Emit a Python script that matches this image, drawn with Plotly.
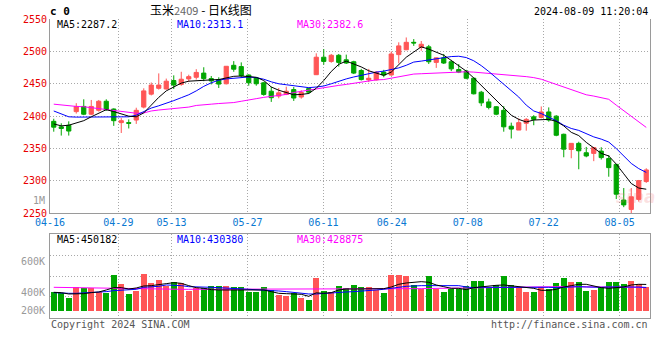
import plotly.graph_objects as go

# ---------------- data ----------------
dates = ["04-16","04-17","04-18","04-19","04-22","04-23","04-24","04-25","04-26","04-29","04-30",
         "05-06","05-07","05-08","05-09","05-10","05-13","05-14","05-15","05-16","05-17",
         "05-20","05-21","05-22","05-23","05-24","05-27","05-28","05-29","05-30","05-31",
         "06-03","06-04","06-05","06-06","06-07","06-11","06-12","06-13","06-14",
         "06-17","06-18","06-19","06-20","06-21","06-24","06-25","06-26","06-27","06-28",
         "07-01","07-02","07-03","07-04","07-05","07-08","07-09","07-10","07-11","07-12",
         "07-15","07-16","07-17","07-18","07-19","07-22","07-23","07-24","07-25","07-26",
         "07-29","07-30","07-31","08-01","08-02","08-05","08-06","08-07","08-08","08-09"]

opens = [2392, 2383.5, 2386, 2407, 2415, 2403, 2409, 2423, 2411, 2390,
         2390, 2394, 2414, 2434, 2443, 2442, 2455, 2449, 2457.5, 2460,
         2466.5, 2458, 2456.5, 2450, 2478.5, 2476.5, 2463.5, 2459, 2451.5, 2438.5,
         2431, 2433.5, 2441, 2429.5, 2442.5, 2464, 2491, 2484.5, 2494, 2487,
         2484, 2470.5, 2456, 2456, 2468, 2463.5, 2495, 2502.5, 2514, 2506,
         2507, 2483, 2490, 2484, 2472, 2469.5, 2458.5, 2437, 2422, 2414.5,
         2409, 2384.5, 2378.5, 2389, 2399, 2398, 2406.5, 2400, 2372, 2348.5,
         2358, 2343.5, 2342.5, 2346, 2334.5, 2325.5, 2270.5, 2256, 2271.5, 2299]
highs = [2396, 2389, 2392, 2420, 2426, 2425, 2425, 2426, 2412, 2397,
         2395, 2413, 2443, 2452, 2466, 2458, 2463, 2468.5, 2464, 2472.5,
         2475.5, 2462, 2460, 2477, 2485, 2483, 2464.5, 2460, 2453, 2445.5,
         2443.5, 2445.5, 2445, 2440, 2444, 2497, 2503.5, 2496, 2496, 2495,
         2485.5, 2473, 2473, 2469.5, 2471.5, 2500, 2514, 2521.5, 2519, 2516,
         2510, 2490.5, 2496, 2487, 2480.5, 2471.5, 2460, 2439, 2427, 2415.5,
         2415.5, 2390, 2396.5, 2397, 2401.5, 2415, 2413.5, 2401.5, 2373, 2358,
         2360.5, 2352.5, 2352.5, 2352, 2340, 2325.5, 2289, 2289, 2301.5, 2319.5]
lows = [2376, 2370, 2370, 2404, 2401.5, 2401.5, 2407, 2408, 2385, 2374,
        2381, 2388, 2412, 2432, 2441, 2441, 2442, 2447, 2453, 2456.5,
        2454, 2449, 2443.5, 2449, 2468.5, 2459, 2447, 2447, 2431.5, 2422,
        2427.5, 2432.5, 2423.5, 2427, 2434.5, 2463.5, 2479.5, 2482.5, 2476.5, 2480.5,
        2465, 2455, 2452.5, 2455, 2460, 2462.5, 2481.5, 2502, 2508.5, 2501,
        2480.5, 2474.5, 2480.5, 2469.5, 2466.5, 2457, 2433.5, 2415.5, 2410.5, 2401.5,
        2376, 2365.5, 2378.5, 2377.5, 2386, 2396.5, 2391.5, 2369, 2336.5, 2335,
        2318, 2336.5, 2330.5, 2333, 2306.5, 2272, 2259.5, 2248, 2268, 2297]
closes = [2383, 2381, 2377, 2415, 2403, 2415, 2423, 2410, 2393, 2393,
          2389, 2409, 2439, 2448, 2448, 2454, 2448, 2457, 2461, 2467.5,
          2458, 2454.5, 2449.5, 2477, 2472.5, 2462.5, 2451.5, 2450, 2433.5, 2428.5,
          2436, 2438.5, 2428, 2436.5, 2437, 2491, 2484.5, 2494, 2483, 2482,
          2466.5, 2456.5, 2458.5, 2468, 2463.5, 2496, 2508.5, 2514, 2513, 2511,
          2484, 2490, 2482, 2473, 2468, 2458.5, 2434.5, 2420.5, 2413.5, 2403,
          2383.5, 2380, 2390, 2395, 2395, 2406.5, 2394, 2370.5, 2349, 2358,
          2346.5, 2338.5, 2351.5, 2336, 2320.5, 2279.5, 2263, 2275.5, 2300.5, 2317]

ma5 = [2388, 2385, 2386, 2389, 2393, 2399, 2405, 2410, 2407, 2404,
       2400, 2399, 2405, 2417, 2429, 2439, 2445, 2451, 2454, 2455,
       2456, 2456, 2456.5, 2459.5, 2461.5, 2462, 2461, 2460, 2455, 2445,
       2440, 2436, 2433, 2433.5, 2435, 2443, 2455, 2469, 2480, 2485,
       2481, 2476, 2470, 2467, 2463, 2468, 2480, 2491, 2499, 2507,
       2503.5, 2499, 2494, 2486, 2478, 2469.5, 2459, 2447.5, 2436, 2425,
       2412, 2401.5, 2395, 2391, 2394, 2395, 2395, 2392, 2385, 2375,
       2370, 2359.5, 2350.5, 2342.5, 2338.5, 2326, 2311, 2296, 2289, 2287.2]
ma10 = [2408, 2403, 2399, 2398.5, 2398.5, 2398, 2398, 2398, 2399, 2399,
        2399, 2401.5, 2406.5, 2412.5, 2416, 2419.5, 2424, 2428.5, 2433, 2439,
        2446, 2451.5, 2455.5, 2457.5, 2458.5, 2460, 2460.5, 2459.5, 2457, 2453,
        2450, 2448.5, 2447, 2446, 2444, 2445, 2446.5, 2450, 2454, 2457.5,
        2460.5, 2463, 2466, 2468, 2469.5, 2471.5, 2474.5, 2478.5, 2483.5, 2485,
        2487, 2489, 2491, 2492, 2492.5, 2490.5, 2485.5, 2478, 2469, 2459,
        2448.5, 2439, 2429.5, 2417, 2408, 2404, 2399, 2393, 2386, 2381,
        2378, 2373, 2368, 2364.5, 2360, 2350, 2338.5, 2327, 2319, 2313.1]
ma30 = [2418.5, 2417, 2416, 2415, 2414.5, 2413, 2412, 2410, 2408, 2406.5,
        2405, 2404.5, 2405, 2408, 2409.5, 2410.5, 2411, 2412.5, 2414, 2416.5,
        2417, 2418.5, 2419.5, 2420, 2421, 2423, 2424.5, 2427, 2429, 2430.5,
        2432, 2433.5, 2436.5, 2438.5, 2440, 2442, 2444, 2446, 2447.5, 2449,
        2451, 2453, 2455, 2456, 2456.5, 2458.5, 2460, 2462.5, 2465, 2465.5,
        2466, 2467, 2468, 2468.5, 2468.5, 2468.5, 2468, 2467, 2466.5, 2465.5,
        2465, 2464, 2462, 2461, 2459.5, 2457, 2453, 2449, 2445, 2440,
        2437, 2433, 2431, 2428.5, 2426, 2417, 2408.5, 2400, 2392.5, 2382.6]

volumes = [402900, 391900, 363500, 435600, 424700, 424700, 402900, 391900, 512000, 453100,
           387600, 407200, 518700, 459700, 479400, 440000, 464000, 459700, 407200, 424700,
           424700, 440000, 440000, 440000, 435600, 435600, 400700, 400700, 435600, 413800,
           381000, 376600, 391900, 363500, 348200, 494700, 409400, 398500, 440000, 424700,
           446600, 433500, 433500, 413800, 394100, 512000, 512000, 505600, 446600, 420300,
           505600, 420300, 400700, 418200, 420300, 440000, 472800, 472800, 424700, 446600,
           505600, 446600, 431300, 400700, 400700, 433500, 420300, 459700, 492500, 466200,
           466200, 407200, 413800, 433500, 466200, 466200, 453100, 472800, 453100, 433500]
vol_ma5 = [398500, 396300, 387600, 387600, 389700, 396300, 400700, 413800, 429100, 429100,
           420300, 426900, 440000, 442200, 446600, 455300, 461900, 457500, 442200, 429100,
           424700, 416000, 413800, 413800, 418200, 416000, 416000, 418200, 413800, 402900,
           391900, 389700, 385400, 385400, 372300, 395000, 391900, 396300, 413800, 420300,
           420300, 420300, 418200, 418200, 422500, 433500, 451000, 459700, 464100, 468400,
           464100, 446600, 435600, 424700, 424700, 416000, 429100, 435600, 440000, 444400,
           446600, 442200, 435600, 431300, 424700, 411600, 411600, 418200, 433500, 442200,
           451000, 451000, 440000, 429100, 424700, 426900, 433500, 446600, 451000, 450182]
vol_ma10 = [396300, 391900, 391900, 391900, 394100, 396300, 398500, 402900, 409400, 413800,
            416000, 418200, 431300, 433500, 437800, 446600, 446600, 442200, 435600, 435600,
            435600, 431300, 429100, 426900, 424700, 422500, 420300, 416000, 413800, 409400,
            407200, 402900, 396300, 391900, 387600, 387600, 391900, 391900, 396300, 400700,
            402900, 405000, 409400, 413800, 418200, 422500, 431300, 437800, 442200, 442200,
            442200, 442200, 442200, 442200, 442200, 433500, 429100, 431300, 431300, 431300,
            433500, 435600, 435600, 435600, 435600, 433500, 431300, 429100, 431300, 437800,
            435600, 433500, 431300, 431300, 433500, 433500, 433500, 435600, 433000, 430380]
vol_ma30 = [431300, 430500, 429500, 429000, 428000, 427000, 426000, 424500, 423000, 421500,
            420000, 419000, 418200, 418200, 418200, 418200, 418200, 418200, 418200, 418200,
            418200, 418200, 418200, 418200, 418200, 418200, 418200, 418200, 418200, 418200,
            418200, 418200, 418200, 418200, 418200, 418200, 418200, 418200, 418200, 418200,
            418200, 418200, 418200, 418200, 418200, 418500, 419500, 420500, 421500, 422500,
            423600, 424500, 425500, 427000, 428000, 429100, 430000, 430500, 431000, 431300,
            432000, 432500, 433000, 433500, 434000, 434500, 435000, 435600, 435600, 435600,
            435600, 435600, 435600, 435000, 434500, 433500, 433000, 432000, 430500, 428875]

date_tick_labels = ["04-16", "04-29", "05-13", "05-27", "06-11", "06-24", "07-08", "07-22", "08-05"]
price_ticks = [2250, 2300, 2350, 2400, 2450, 2500, 2550]
vol_tick_labels = ["800K", "600K", "400K", "200K"]
vol_tick_values = [800000, 600000, 400000, 200000]

title_name = "玉米"
title_code = "2409"
title_rest = " - 日K线图"
timestamp = "2024-08-09 11:20:04"
price_legend = [("MA5", 2287.2), ("MA10", 2313.1), ("MA30", 2382.6)]
vol_legend = [("MA5", 450182), ("MA10", 430380), ("MA30", 428875)]

# ---------------- style / layout ----------------
W, H = 660, 360
def px(x): return x / W
def py(y): return 1 - y / H

UP = "#ff5656"
DN = "#00a600"
GRID = "#a8a8a8"
FRAME = "#9a9a9a"
MONO = "DejaVu Sans Mono"
LINE_COLORS = ["#000000", "#0000ff", "#ff00ff"]

n = len(dates)
xs = list(range(n))
tickpos = [dates.index(d) * n / (n - 1) - 0.5 for d in date_tick_labels]

VOL_LO, VOL_HI, VOL_BASE = 232000, 779000, 276000

fig = go.Figure()

fig.add_trace(go.Candlestick(
    x=xs, open=opens, high=highs, low=lows, close=closes,
    increasing=dict(line=dict(color=UP, width=1), fillcolor=UP),
    decreasing=dict(line=dict(color=DN, width=1), fillcolor=DN),
    whiskerwidth=0, xaxis="x", yaxis="y", showlegend=False, hoverinfo="skip"))

for series, col in zip([ma30, ma10, ma5], LINE_COLORS[::-1]):
    fig.add_trace(go.Scatter(x=xs, y=series, mode="lines", line=dict(color=col, width=1),
                             xaxis="x", yaxis="y", showlegend=False, hoverinfo="skip"))

bar_colors = [UP if c >= o else DN for o, c in zip(opens, closes)]
fig.add_trace(go.Bar(x=xs, y=[v - VOL_BASE for v in volumes], base=VOL_BASE, width=0.8,
                     marker=dict(color=bar_colors, line=dict(width=0)),
                     xaxis="x2", yaxis="y2", showlegend=False, hoverinfo="skip"))

for series, col in zip([vol_ma30, vol_ma10, vol_ma5], LINE_COLORS[::-1]):
    fig.add_trace(go.Scatter(x=xs, y=series, mode="lines", line=dict(color=col, width=1),
                             xaxis="x2", yaxis="y2", showlegend=False, hoverinfo="skip"))

xdom = [px(50), px(650)]
grid_common = dict(showgrid=True, gridcolor=GRID, gridwidth=1, griddash="1px,2px",
                   zeroline=False, showline=True, linecolor=FRAME, linewidth=1,
                   automargin=False)

vq = [VOL_LO + (VOL_HI - VOL_LO) * k / 4 for k in (1, 2, 3)]

fig.update_layout(
    width=W, height=H, margin=dict(l=0, r=0, t=0, b=0, autoexpand=False),
    paper_bgcolor="white", plot_bgcolor="white",
    font=dict(family=MONO, size=10, color="#000"),
    boxgap=0.2, bargap=0, showlegend=False, hovermode=False,
    xaxis=dict(domain=xdom, range=[-0.5, n - 0.5], anchor="y",
               tickvals=tickpos, ticktext=date_tick_labels, ticks="",
               tickfont=dict(family=MONO, size=10, color="#0a78d2"),
               rangeslider=dict(visible=False), mirror=False, **grid_common),
    yaxis=dict(domain=[py(213.3), py(19)], range=[2250, 2550], anchor="x",
               tickvals=price_ticks, ticks="",
               tickfont=dict(family=MONO, size=10, color="#e80000"),
               mirror=True, **grid_common),
    xaxis2=dict(domain=xdom, range=[-0.5, n - 0.5], anchor="y2",
                tickvals=tickpos, showticklabels=False, ticks="",
                mirror=True, **grid_common),
    yaxis2=dict(domain=[py(317.7), py(234.3)], range=[VOL_LO, VOL_HI], anchor="x2",
                tickvals=vq, showticklabels=False, ticks="",
                mirror=True, **grid_common),
)

ann = []
# faint watermark in the price panel
ann.append(dict(x=px(636), y=py(197), xref="paper", yref="paper", xanchor="center", yanchor="middle",
                text="<i><b>sina</b></i>", showarrow=False,
                font=dict(family="DejaVu Sans", size=17, color="rgba(240,120,120,0.22)")))
# header
ann.append(dict(x=px(48), y=py(11), xref="paper", yref="paper", xanchor="left", yanchor="middle",
                text="<b>c 0</b>", showarrow=False, font=dict(family=MONO, size=11, color="#000")))
ann.append(dict(x=px(201), y=py(9), xref="paper", yref="paper", xanchor="center", yanchor="middle",
                text=title_name + "<span style='font-size:11px;color:#666'>" + title_code + "</span>" + title_rest,
                showarrow=False, font=dict(family="Noto Sans CJK SC", size=12, color="#000")))
ann.append(dict(x=px(650), y=py(11), xref="paper", yref="paper", xanchor="right", yanchor="middle",
                text=timestamp, showarrow=False, font=dict(family=MONO, size=10, color="#000")))
# price MA legend
for (name, val), col, xl in zip(price_legend, LINE_COLORS, [55, 175, 295]):
    ann.append(dict(x=px(xl), y=py(24.5), xref="paper", yref="paper", xanchor="left", yanchor="middle",
                    text=f"{name}:{val}", showarrow=False, font=dict(family=MONO, size=10, color=col)))
# volume MA legend
for (name, val), col, xl in zip(vol_legend, LINE_COLORS, [55, 175, 295]):
    ann.append(dict(x=px(xl), y=py(239), xref="paper", yref="paper", xanchor="left", yanchor="middle",
                    text=f"{name}:{val}", showarrow=False, font=dict(family=MONO, size=10, color=col)))
# volume tick labels (clamped into the panel like the source)
for lab, val in zip(vol_tick_labels, vol_tick_values):
    ann.append(dict(x=px(47), y=max(val, VOL_BASE), xref="paper", yref="y2", xanchor="right",
                    yanchor="middle", text=lab, showarrow=False,
                    font=dict(family=MONO, size=10, color="#999")))
# "1M" marker
ann.append(dict(x=px(47), y=py(200.5), xref="paper", yref="paper", xanchor="right", yanchor="middle",
                text="1M", showarrow=False, font=dict(family=MONO, size=10, color="#999")))
# footer
ann.append(dict(x=px(49), y=py(324), xref="paper", yref="paper", xanchor="left", yanchor="middle",
                text="Copyright 2024 SINA.COM", showarrow=False, font=dict(family=MONO, size=10, color="#555")))
ann.append(dict(x=px(650), y=py(324), xref="paper", yref="paper", xanchor="right", yanchor="middle",
                text="http://finance.sina.com.cn", showarrow=False, font=dict(family=MONO, size=10, color="#555")))
fig.update_layout(annotations=ann)

fig.write_html("out.html", config={"displayModeBar": False, "staticPlot": True},
               post_script="document.body.style.margin='0px';")
